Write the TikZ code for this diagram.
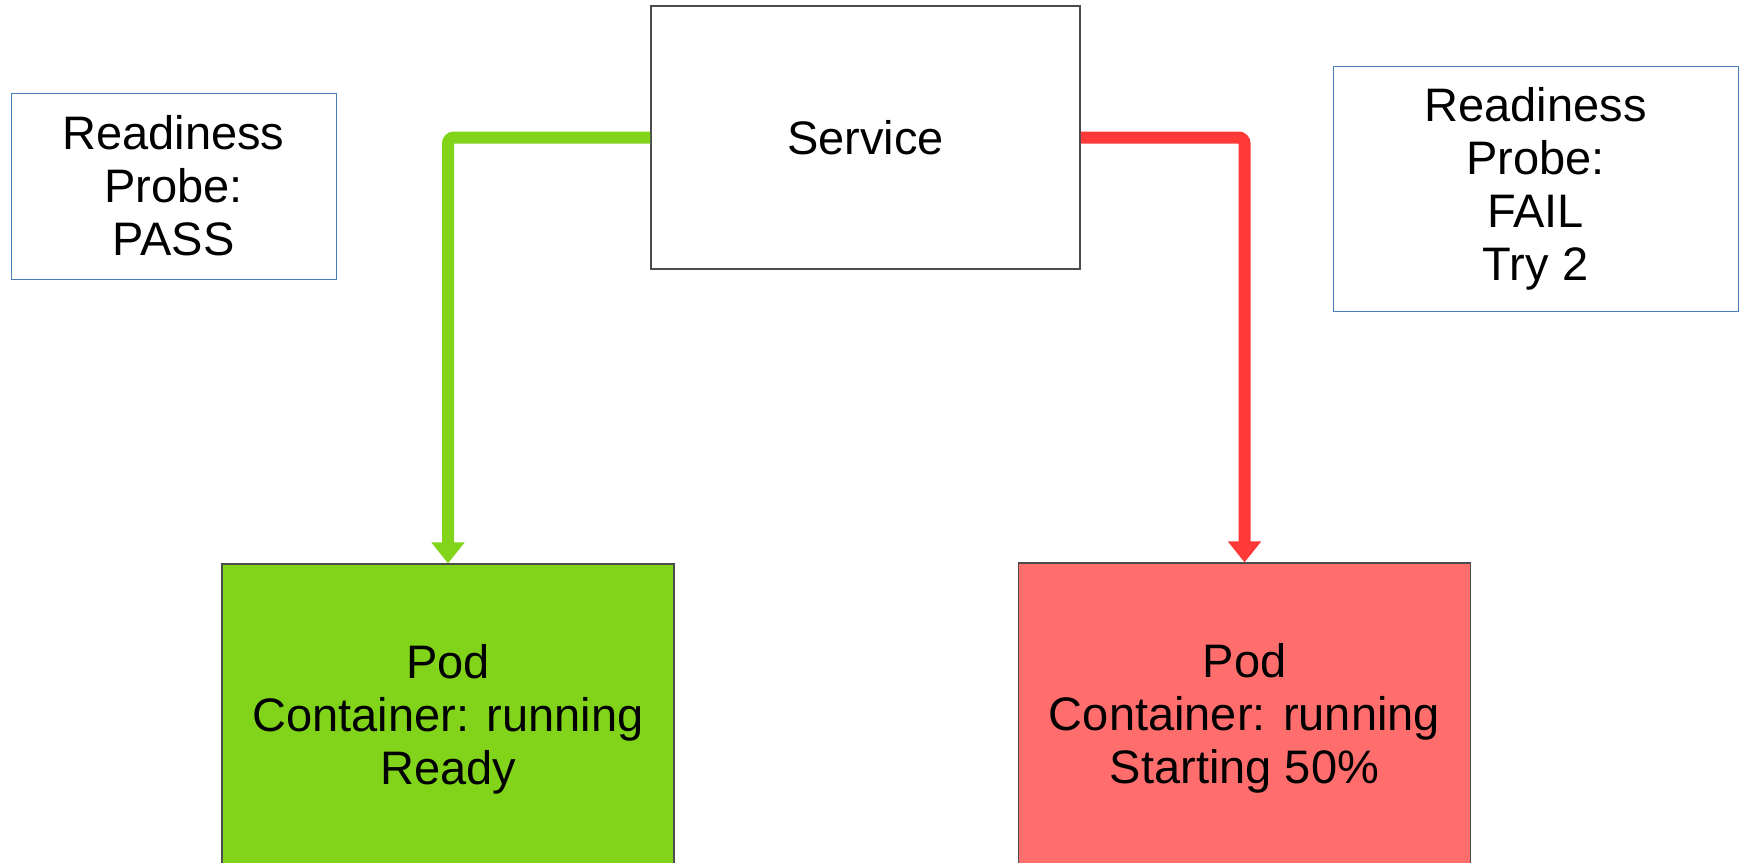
\documentclass[tikz,border=0pt]{standalone}
\usepackage{fontspec}
\setmainfont{Liberation Sans}
\usepackage{xcolor}
\usepackage{tikz}
\usetikzlibrary{arrows.meta}

\definecolor{passgreen}{HTML}{81D41A}
\definecolor{failred}{HTML}{FF3838}
\definecolor{podred}{HTML}{FF6D6D}
\definecolor{probeblue}{HTML}{4A7EBB}

\begin{document}
\begin{tikzpicture}[x=0.5pt,y=-0.5pt,->,>={Triangle[width=16pt,length=10.5pt]}]
                \tikzset{box/.style={draw, rectangle, inner sep=0pt, align=center, font=\fontsize{23.5}{26.5}\selectfont},
                         probe/.style={box, draw=probeblue, line width=0.5pt},
                         svcbox/.style={box, draw=black!70, line width=0.8pt, minimum width=214.5pt, minimum height=131.5pt},
                         pod/.style={box, draw=black!70, line width=0.6pt, minimum width=226pt, minimum height=155pt},
                         link/.style={line width=6pt, rounded corners=3pt}}
                \useasboundingbox (0,0) rectangle (1743,862);
                \clip (0,0) rectangle (1743,862);
                \node[svcbox] (svc) at (865.5,137.5) {Service};
                \node[probe, minimum width=162.5pt, minimum height=93pt] (probepass) at (173.5,186) {Readiness\\Probe:\\PASS};
                \node[probe, minimum width=202.5pt, minimum height=122.5pt] (probefail) at (1535.5,188.5) {Readiness\\Probe:\\FAIL\\Try 2};
                \node[pod, fill=passgreen] (podok) at (448,719) {Pod\\Container: running\\Ready};
                \node[pod, fill=podred] (podstart) at (1244.5,718) {Pod\\Container: running\\Starting 50\%};
                \draw[link, passgreen] (svc.west) -| (podok.north);
                \draw[link, failred] (svc.east) -| (podstart.north);
            \end{tikzpicture}
\end{document}
